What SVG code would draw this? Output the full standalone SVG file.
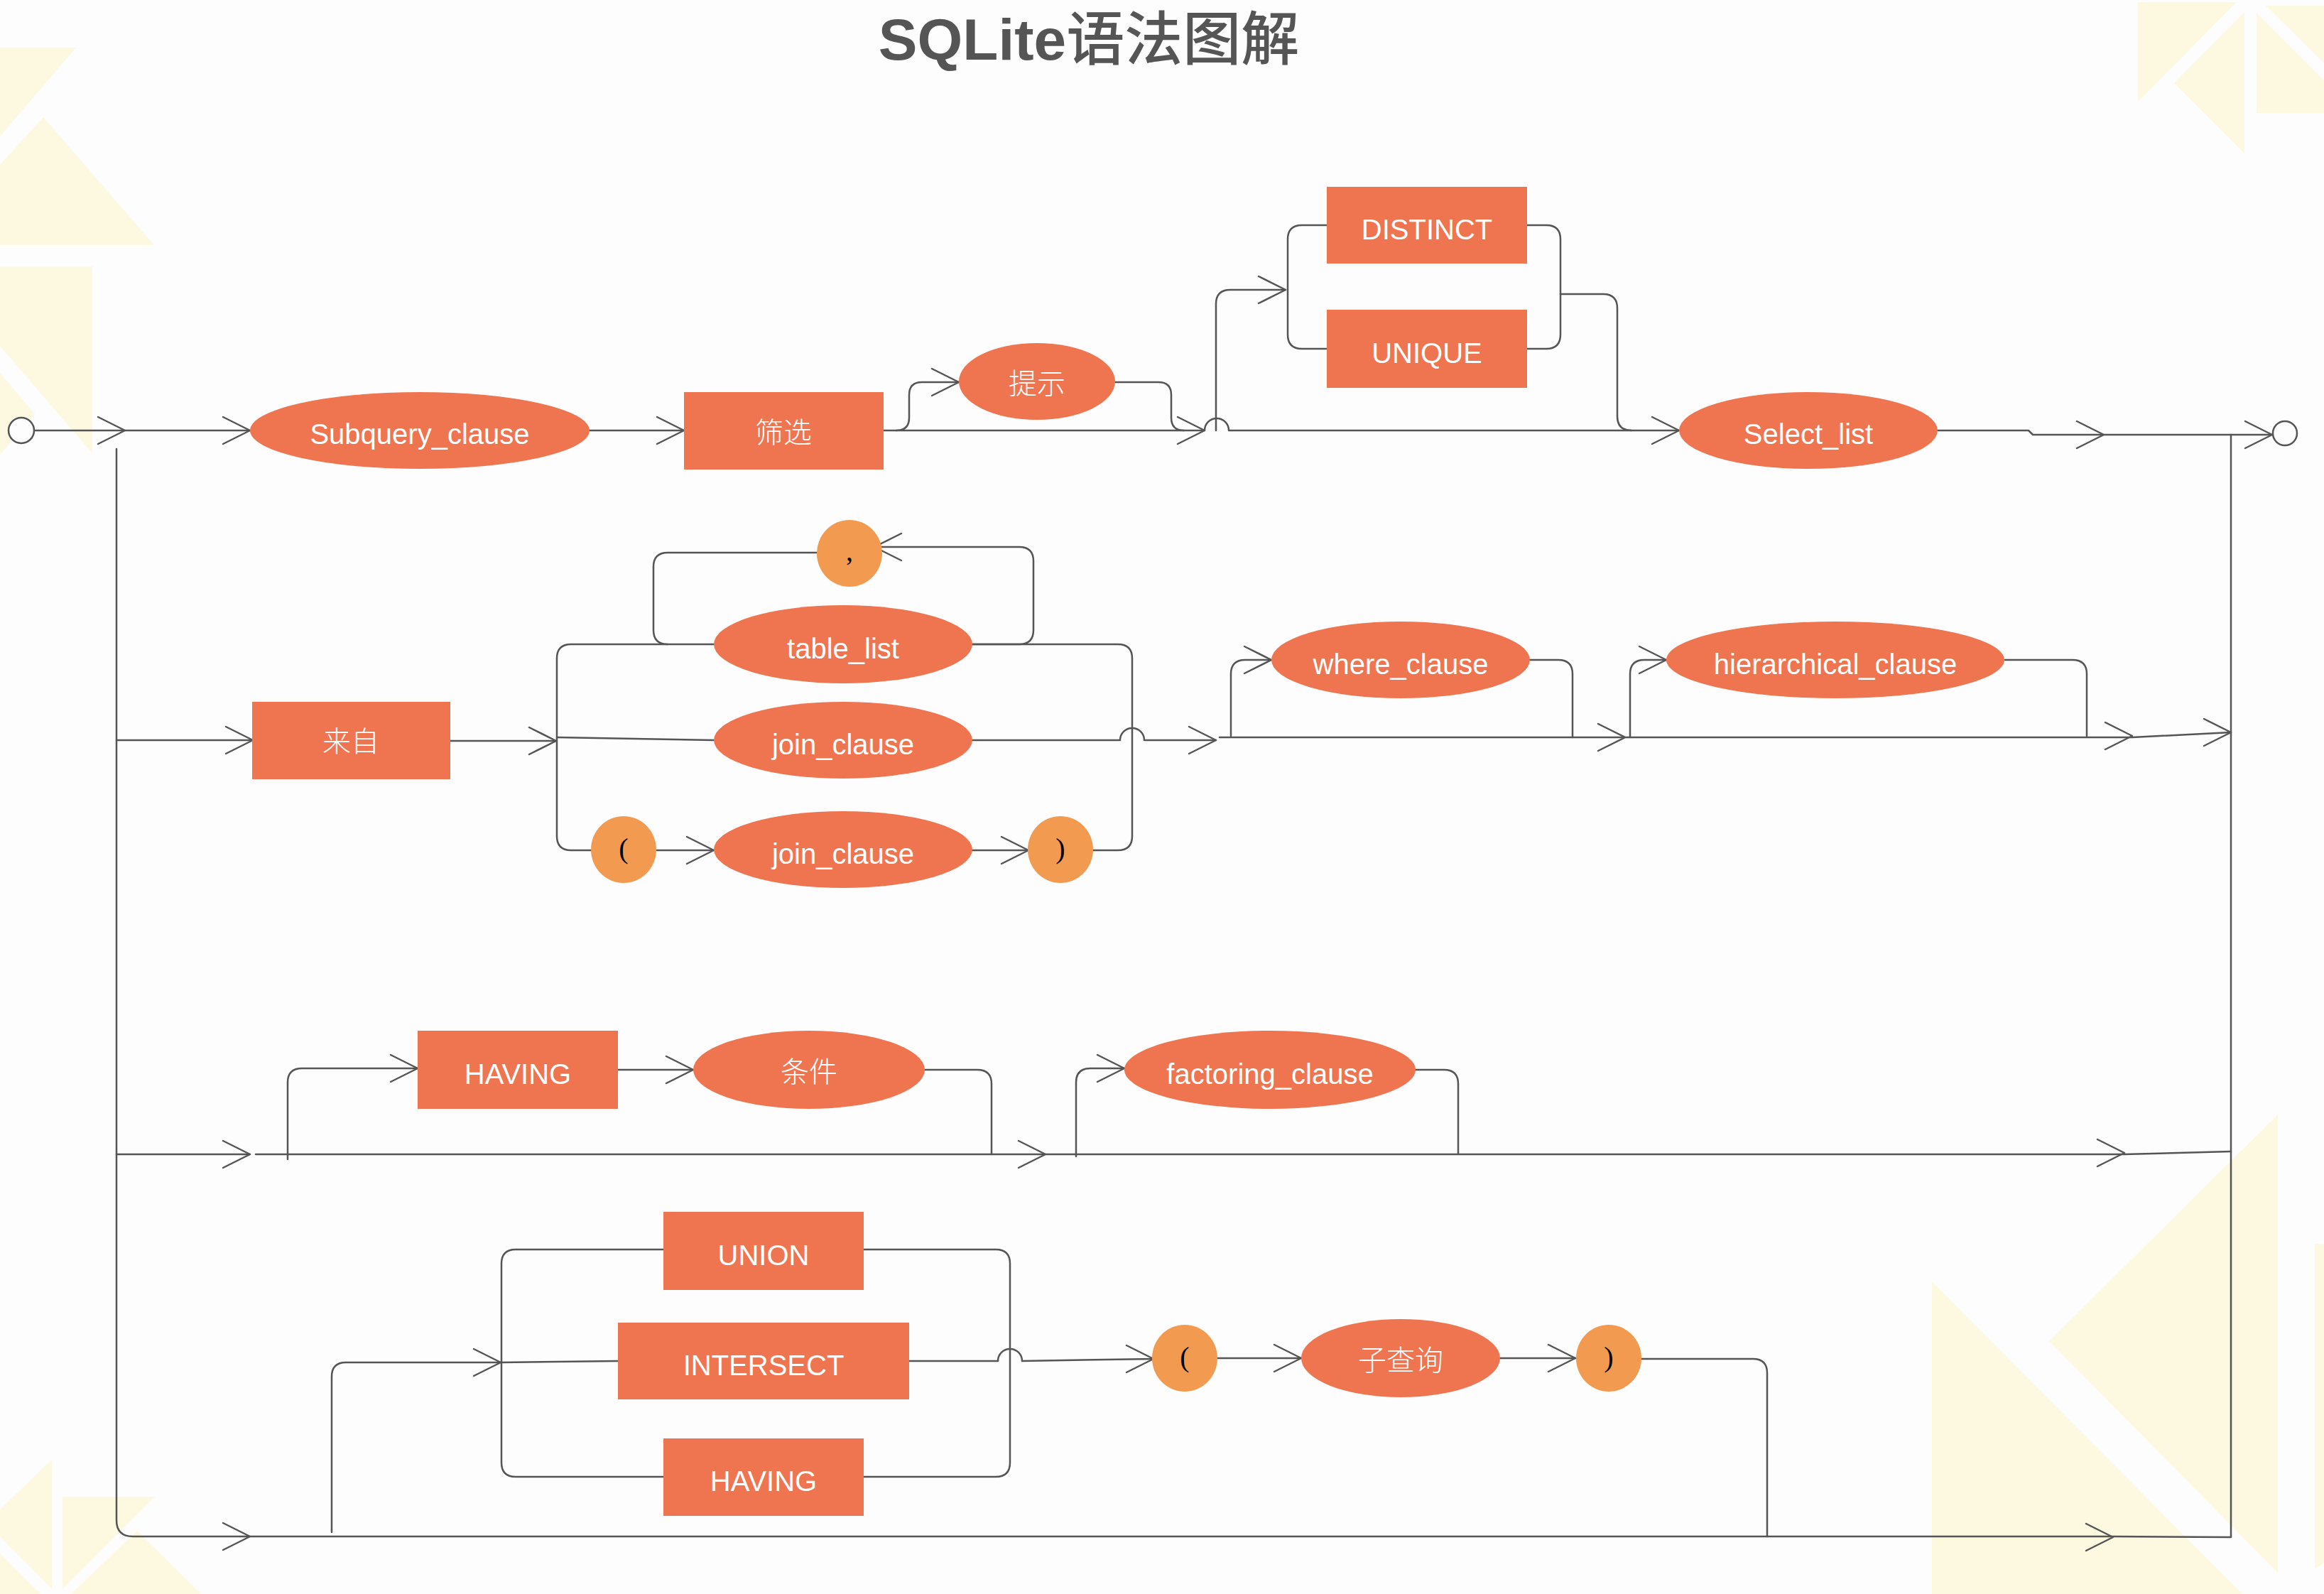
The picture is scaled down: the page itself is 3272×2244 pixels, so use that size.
<svg xmlns="http://www.w3.org/2000/svg" xmlns:xlink="http://www.w3.org/1999/xlink" width="3272" height="2244" viewBox="0 0 3272 2244">
<style>
.ln{fill:none;stroke:#555;stroke-width:2.5;stroke-linejoin:round;stroke-linecap:round}
.n{fill:#EE7550}
.p{fill:#F29B50}
.t{font-family:"Liberation Sans",Arial,sans-serif;font-size:40px;fill:#fff;text-anchor:middle}
.c{font-family:"Noto Sans CJK SC","Liberation Sans",sans-serif;font-size:40px;fill:#fff;text-anchor:middle;font-weight:300}
.k{font-family:"Liberation Serif","Times New Roman",serif;font-size:40px;fill:#000;text-anchor:middle}
.bg{fill:#FDF8E0}
</style>
<defs>
<path id="ar" d="M-38,-19 L0,0 L-38,19" fill="none" stroke="#555" stroke-width="2.5" stroke-linecap="round" stroke-linejoin="round"/>
</defs>
<rect x="0" y="0" width="3272" height="2244" fill="#FDFDFD"/>
<g id="decor">
<polygon class="bg" points="0,67 107,67 0,192"/>
<polygon class="bg" points="61,165 217,345 0,345 0,232"/>
<polygon class="bg" points="0,375 130,375 130,638 0,487"/>
<polygon class="bg" points="0,525 49,583 0,640"/>
<polygon class="bg" points="3010,3 3149,3 3010,143"/>
<polygon class="bg" points="3160,17 3160,216 3061,117"/>
<polygon class="bg" points="3177,18 3272,113 3272,159 3177,159"/>
<polygon class="bg" points="3190,8 3272,8 3272,89"/>
<polygon class="bg" points="2720,1804 2720,2244 3157,2244"/>
<polygon class="bg" points="3207,1569 2885,1888 3207,2214"/>
<polygon class="bg" points="3259,1751 3272,1751 3272,2200 3259,2209"/>
<polygon class="bg" points="73,2055 73,2237 0,2163 0,2125"/>
<polygon class="bg" points="0,2187 57,2244 0,2244"/>
<polygon class="bg" points="88,2107 218,2107 88,2237"/>
<polygon class="bg" points="193,2155 283,2244 100,2244"/>
</g>
<text x="1533" y="84" font-family="'Liberation Sans','Noto Sans CJK SC',sans-serif" font-size="82" fill="#555" text-anchor="middle"><tspan font-weight="bold">SQLite</tspan><tspan font-family="'Noto Sans CJK SC',sans-serif" font-weight="500">语法图解</tspan></text>
<g id="connectors">
<path class="ln" d="M48,606 H1696 A17,17 0 0 1 1730,606 H2364"/>
<path class="ln" d="M2728,606 H2856 L2862,612 H3199"/>
<path class="ln" d="M164,632 V2140 Q164,2163 187,2163 H2975 L3141,2164 V612"/>
<path class="ln" d="M1262,606 Q1280,606 1280,588 V556 Q1280,538 1298,538 H1350"/>
<path class="ln" d="M1569,538 H1631 Q1649,538 1649,556 V588 Q1649,606 1667,606"/>
<path class="ln" d="M1712,606 V428 Q1712,408 1732,408 H1810"/>
<path class="ln" d="M1868,317 H1833 Q1813,317 1813,337 V471 Q1813,491 1833,491 H1868"/>
<path class="ln" d="M2150,317 H2177 Q2197,317 2197,337 V471 Q2197,491 2177,491 H2150"/>
<path class="ln" d="M2197,414 H2257 Q2277,414 2277,434 V586 Q2277,606 2297,606"/>
<path class="ln" d="M164,1042 H355"/>
<path class="ln" d="M634,1043 H783"/>
<path class="ln" d="M1005,907 H804 Q784,907 784,927 V1177 Q784,1197 804,1197 H832"/>
<path class="ln" d="M784,1038 L1005,1042"/>
<path class="ln" d="M925,1197 H1005"/>
<path class="ln" d="M1369,1197 H1448"/>
<path class="ln" d="M1538,1197 H1574 Q1594,1197 1594,1177 V927 Q1594,907 1574,907 H1369"/>
<path class="ln" d="M1369,1042 H1577 A17,17 0 0 1 1611,1042 H1712"/>
<path class="ln" d="M1717,1038 H3002 L3141,1031"/>
<path class="ln" d="M940,907 Q920,907 920,887 V798 Q920,778 940,778 H1150"/>
<path class="ln" d="M1369,907 H1435 Q1455,907 1455,887 V790 Q1455,770 1435,770 H1231"/>
<path class="ln" d="M1733,1036 V949 Q1733,929 1753,929 H1790"/>
<path class="ln" d="M2154,929 H2194 Q2214,929 2214,949 V1038"/>
<path class="ln" d="M2295,1038 V949 Q2295,929 2315,929 H2346"/>
<path class="ln" d="M2823,929 H2918 Q2938,929 2938,949 V1036"/>
<path class="ln" d="M164,1625 H352 M360,1625 H2991 L3141,1621"/>
<path class="ln" d="M405,1632 V1524 Q405,1504 425,1504 H588"/>
<path class="ln" d="M870,1506 H976"/>
<path class="ln" d="M1301,1506 H1376 Q1396,1506 1396,1526 V1625"/>
<path class="ln" d="M1515,1628 V1524 Q1515,1504 1535,1504 H1583"/>
<path class="ln" d="M1992,1506 H2033 Q2053,1506 2053,1526 V1624"/>
<path class="ln" d="M467,2157 V1938 Q467,1918 487,1918 H705"/>
<path class="ln" d="M934,1759 H726 Q706,1759 706,1779 V2059 Q706,2079 726,2079 H934"/>
<path class="ln" d="M706,1918 L870,1916"/>
<path class="ln" d="M1216,1759 H1402 Q1422,1759 1422,1779 V2059 Q1422,2079 1402,2079 H1216"/>
<path class="ln" d="M1280,1916 H1405 A17,17 0 0 1 1439,1916 L1624,1913"/>
<path class="ln" d="M1714,1912 H1832"/>
<path class="ln" d="M2112,1912 H2218"/>
<path class="ln" d="M2311,1913 H2468 Q2488,1913 2488,1933 V2163"/>
<use xlink:href="#ar" transform="translate(176,606)"/>
<use xlink:href="#ar" transform="translate(352,606)"/>
<use xlink:href="#ar" transform="translate(963,606)"/>
<use xlink:href="#ar" transform="translate(1350,538)"/>
<use xlink:href="#ar" transform="translate(1696,606)"/>
<use xlink:href="#ar" transform="translate(1810,408)"/>
<use xlink:href="#ar" transform="translate(2364,606)"/>
<use xlink:href="#ar" transform="translate(2962,612)"/>
<use xlink:href="#ar" transform="translate(3199,612)"/>
<use xlink:href="#ar" transform="translate(356,1042)"/>
<use xlink:href="#ar" transform="translate(783,1043)"/>
<use xlink:href="#ar" transform="translate(1005,1197)"/>
<use xlink:href="#ar" transform="translate(1448,1197)"/>
<use xlink:href="#ar" transform="translate(1231,770) scale(-1,1)"/>
<use xlink:href="#ar" transform="translate(1712,1042)"/>
<use xlink:href="#ar" transform="translate(1790,929)"/>
<use xlink:href="#ar" transform="translate(2288,1038)"/>
<use xlink:href="#ar" transform="translate(2346,929)"/>
<use xlink:href="#ar" transform="translate(3002,1036)"/>
<use xlink:href="#ar" transform="translate(3141,1031)"/>
<use xlink:href="#ar" transform="translate(352,1625)"/>
<use xlink:href="#ar" transform="translate(588,1504)"/>
<use xlink:href="#ar" transform="translate(976,1506)"/>
<use xlink:href="#ar" transform="translate(1472,1625)"/>
<use xlink:href="#ar" transform="translate(1583,1504)"/>
<use xlink:href="#ar" transform="translate(2991,1623)"/>
<use xlink:href="#ar" transform="translate(352,2163)"/>
<use xlink:href="#ar" transform="translate(705,1918)"/>
<use xlink:href="#ar" transform="translate(1624,1913)"/>
<use xlink:href="#ar" transform="translate(1832,1912)"/>
<use xlink:href="#ar" transform="translate(2218,1912)"/>
<use xlink:href="#ar" transform="translate(2975,2164)"/>
</g>
<g id="start"><circle cx="30" cy="606" r="18" fill="#FDFDFD" stroke="#555" stroke-width="2.5"/></g>
<g id="end"><circle cx="3217" cy="610" r="17" fill="#FDFDFD" stroke="#555" stroke-width="2.5"/></g>
<g id="subquery_clause"><ellipse class="n" cx="591" cy="606" rx="239" ry="54"/><text class="t" x="591" y="625">Subquery_clause</text></g>
<g id="shaixuan"><rect class="n" x="963" y="552" width="281" height="109"/><text class="c" x="1103" y="623">筛选</text></g>
<g id="tishi"><ellipse class="n" cx="1460" cy="537" rx="110" ry="54"/><text class="c" x="1460" y="554">提示</text></g>
<g id="distinct"><rect class="n" x="1868" y="263" width="282" height="108"/><text class="t" x="2009" y="337">DISTINCT</text></g>
<g id="unique"><rect class="n" x="1868" y="436" width="282" height="110"/><text class="t" x="2009" y="511">UNIQUE</text></g>
<g id="select_list"><ellipse class="n" cx="2546" cy="606" rx="182" ry="54"/><text class="t" x="2546" y="625">Select_list</text></g>
<g id="laizi"><rect class="n" x="355" y="988" width="279" height="109"/><text class="c" x="494" y="1058">来自</text></g>
<g id="table_list"><ellipse class="n" cx="1187" cy="907" rx="182" ry="55"/><text class="t" x="1187" y="927">table_list</text></g>
<g id="comma"><ellipse class="p" cx="1196" cy="779" rx="46" ry="47"/><text class="k" x="1196" y="789">,</text></g>
<g id="join_clause_1"><ellipse class="n" cx="1187" cy="1042" rx="182" ry="54"/><text class="t" x="1187" y="1062">join_clause</text></g>
<g id="lparen_1"><ellipse class="p" cx="878" cy="1196" rx="46" ry="47"/><text class="k" x="878" y="1208">(</text></g>
<g id="join_clause_2"><ellipse class="n" cx="1187" cy="1196" rx="182" ry="54"/><text class="t" x="1187" y="1216">join_clause</text></g>
<g id="rparen_1"><ellipse class="p" cx="1493" cy="1196" rx="46" ry="47"/><text class="k" x="1493" y="1208">)</text></g>
<g id="where_clause"><ellipse class="n" cx="1972" cy="929" rx="182" ry="54"/><text class="t" x="1972" y="949">where_clause</text></g>
<g id="hierarchical_clause"><ellipse class="n" cx="2584" cy="929" rx="238" ry="54"/><text class="t" x="2584" y="949">hierarchical_clause</text></g>
<g id="having_1"><rect class="n" x="588" y="1451" width="282" height="110"/><text class="t" x="729" y="1526">HAVING</text></g>
<g id="tiaojian"><ellipse class="n" cx="1139" cy="1506" rx="163" ry="55"/><text class="c" x="1139" y="1523">条件</text></g>
<g id="factoring_clause"><ellipse class="n" cx="1788" cy="1506" rx="205" ry="55"/><text class="t" x="1788" y="1526">factoring_clause</text></g>
<g id="union"><rect class="n" x="934" y="1706" width="282" height="110"/><text class="t" x="1075" y="1781">UNION</text></g>
<g id="intersect"><rect class="n" x="870" y="1862" width="410" height="108"/><text class="t" x="1075" y="1936">INTERSECT</text></g>
<g id="having_2"><rect class="n" x="934" y="2025" width="282" height="109"/><text class="t" x="1075" y="2099">HAVING</text></g>
<g id="lparen_2"><ellipse class="p" cx="1668" cy="1912" rx="46" ry="47"/><text class="k" x="1668" y="1924">(</text></g>
<g id="zichaxun"><ellipse class="n" cx="1972" cy="1912" rx="140" ry="55"/><text class="c" x="1972" y="1929">子查询</text></g>
<g id="rparen_2"><ellipse class="p" cx="2265" cy="1912" rx="46" ry="47"/><text class="k" x="2265" y="1924">)</text></g>
</svg>
